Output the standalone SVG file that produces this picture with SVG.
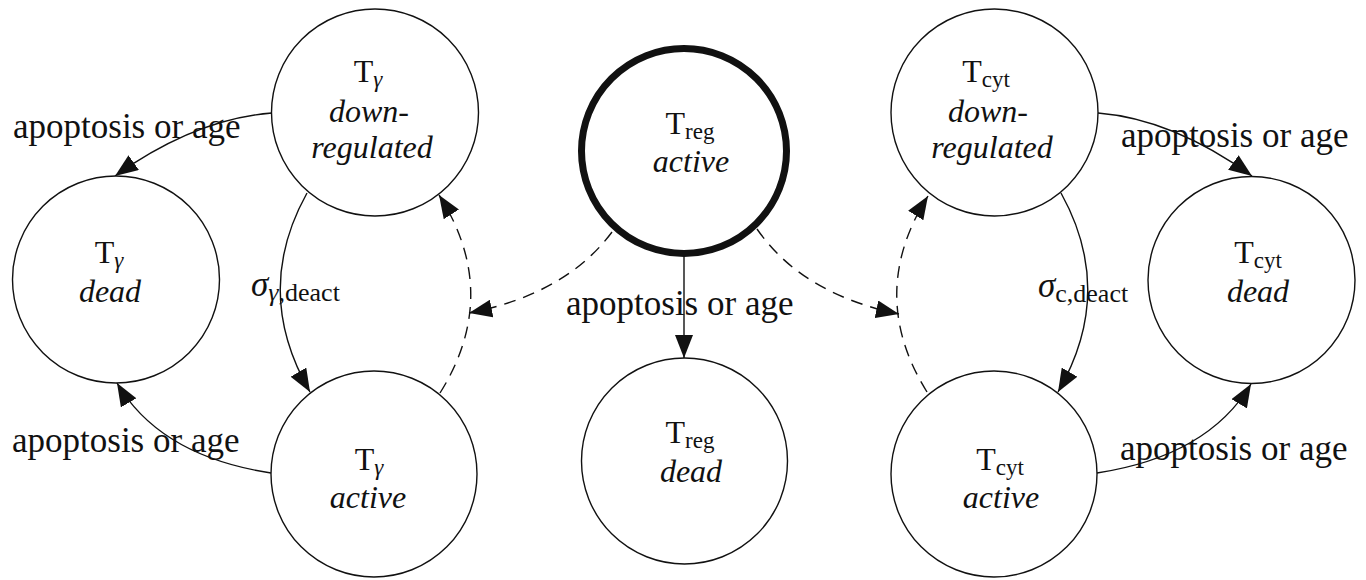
<svg xmlns="http://www.w3.org/2000/svg" width="1366" height="580" viewBox="0 0 1366 580">
<defs>
<marker id="ah" markerUnits="userSpaceOnUse" markerWidth="24" markerHeight="18" refX="23" refY="9" orient="auto">
<path d="M0,0 L23,9 L0,18 Z" fill="#111"/>
</marker>
<style>
.node{fill:#fff;stroke:#111;stroke-width:1.4}
.thick{stroke-width:7}
.t{font-family:"Liberation Serif","Times New Roman",serif;font-size:32px;fill:#111;text-anchor:middle}
.it{font-style:italic}
.sub{font-size:23px;font-style:normal}
.lbl{font-family:"Liberation Serif","Times New Roman",serif;font-size:35px;fill:#111}
.e{fill:none;stroke:#111;stroke-width:1.4;marker-end:url(#ah)}
.d{stroke-dasharray:12 8}
</style>
</defs>
<rect width="1366" height="580" fill="#fff"/>

<g id="connectors">
<path class="e" d="M307,193 Q252,292 310,392"/>
<path class="e d" d="M440,393 Q502,294 439,195"/>
<path class="e d" d="M612,232 Q566,294 469,313"/>
<path class="e d" d="M757,229 Q802,294 899,314"/>
<path class="e d" d="M927,392 Q866,294 928,196"/>
<path class="e" d="M1061,193 Q1116,292 1058,392"/>
<path class="e" d="M684,254 L684,358"/>
<path class="e" d="M272,113 Q195,119 115,176"/>
<path class="e" d="M271,473 Q160,456 117,383"/>
<path class="e" d="M1098,113 Q1173,119 1252,176"/>
<path class="e" d="M1097,473 Q1208,456 1251,384"/>
<text class="lbl" x="13" y="138">apoptosis or age</text>
<text class="lbl" x="12" y="452">apoptosis or age</text>
<text class="lbl" x="566" y="315">apoptosis or age</text>
<text class="lbl" x="1121" y="147">apoptosis or age</text>
<text class="lbl" x="1120" y="460">apoptosis or age</text>
<text class="lbl" x="251" y="296" font-size="35"><tspan font-style="italic">σ</tspan><tspan font-size="26" font-style="italic" dy="5">γ</tspan><tspan font-size="26">,deact</tspan></text>
<text class="lbl" x="1038" y="297" font-size="35"><tspan font-style="italic">σ</tspan><tspan font-size="26" dy="5">c,deact</tspan></text>
</g>

<g id="tg-down">
<circle class="node" cx="375" cy="112.5" r="103.5"/>
<text class="t" x="368" y="82">T<tspan class="sub" dy="5" style="font-style:italic">γ</tspan></text>
<text class="t it" x="369" y="122">down-</text>
<text class="t it" x="372" y="158">regulated</text>
</g>

<g id="tg-dead">
<circle class="node" cx="116" cy="279.5" r="103.5"/>
<text class="t" x="109" y="263">T<tspan class="sub" dy="5" style="font-style:italic">γ</tspan></text>
<text class="t it" x="110" y="302">dead</text>
</g>

<g id="tg-active">
<circle class="node" cx="374" cy="474" r="103"/>
<text class="t" x="369" y="470">T<tspan class="sub" dy="5" style="font-style:italic">γ</tspan></text>
<text class="t it" x="368" y="508">active</text>
</g>

<g id="treg-active">
<circle class="node thick" cx="684" cy="151" r="102.5"/>
<text class="t" x="690" y="134">T<tspan class="sub" dy="5">reg</tspan></text>
<text class="t it" x="691" y="172">active</text>
</g>

<g id="treg-dead">
<circle class="node" cx="684.5" cy="461" r="103"/>
<text class="t" x="690" y="443">T<tspan class="sub" dy="5">reg</tspan></text>
<text class="t it" x="691" y="482">dead</text>
</g>

<g id="tcyt-down">
<circle class="node" cx="994.5" cy="112.5" r="103.5"/>
<text class="t" x="986" y="82">T<tspan class="sub" dy="5">cyt</tspan></text>
<text class="t it" x="988" y="122">down-</text>
<text class="t it" x="992" y="158">regulated</text>
</g>

<g id="tcyt-dead">
<circle class="node" cx="1251.5" cy="280" r="103.5"/>
<text class="t" x="1258" y="263">T<tspan class="sub" dy="5">cyt</tspan></text>
<text class="t it" x="1258" y="302">dead</text>
</g>

<g id="tcyt-active">
<circle class="node" cx="994" cy="474" r="103"/>
<text class="t" x="1000" y="470">T<tspan class="sub" dy="5">cyt</tspan></text>
<text class="t it" x="1001" y="508">active</text>
</g>
</svg>
